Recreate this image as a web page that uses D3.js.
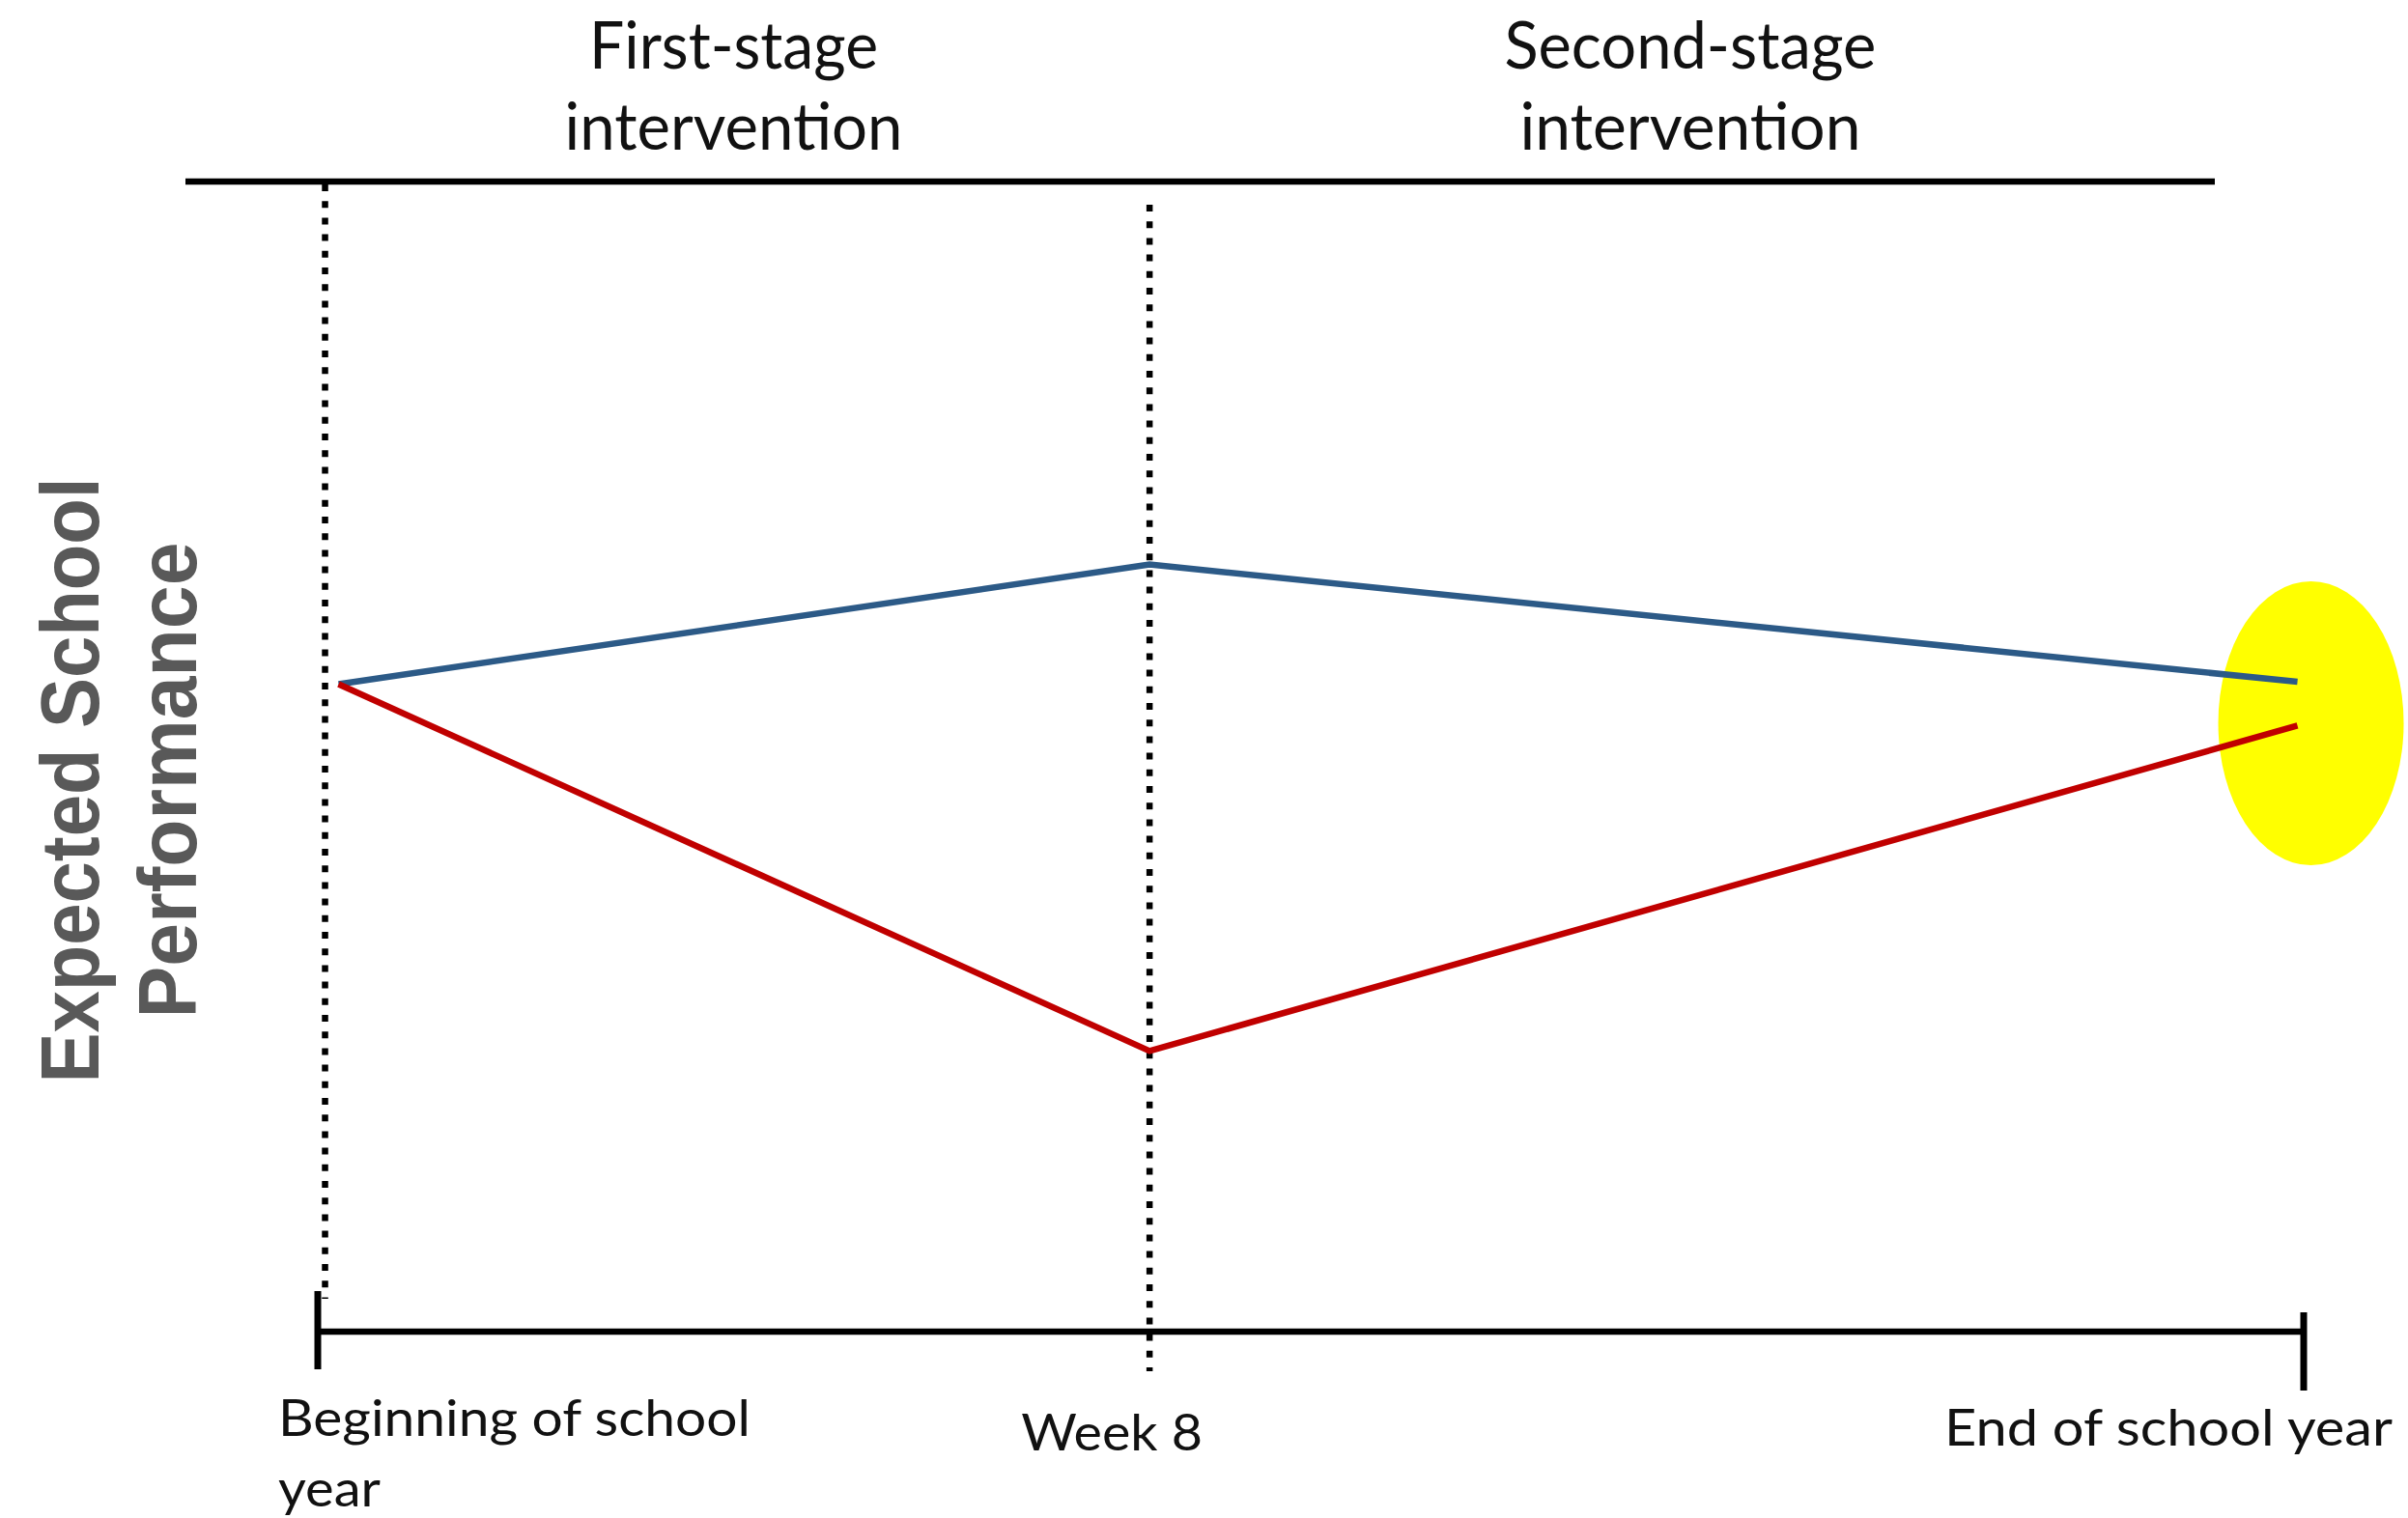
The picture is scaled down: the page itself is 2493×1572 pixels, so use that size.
<!DOCTYPE html>
<html>
<head>
<meta charset="utf-8">
<script src="https://cdn.jsdelivr.net/npm/d3@7"></script>
<style>
  html, body { margin: 0; padding: 0; background: #ffffff; }
  svg { display: block; }
</style>
</head>
<body>
<svg id="chart" width="2493" height="1572"></svg>
<script>
// ---------- data ----------
const timeLabels = ["Beginning of school year", "Week 8", "End of school year"];
const axisWeeks = [0, 19.1];                 // span of the school-year axis (schematic weeks)
const stageBoundaryWeeks = [0.07, 8];        // dotted stage boundaries
const stageNames = [["First-stage", "intervention"], ["Second-stage", "intervention"]];
const stageCenterWeeks = [4, 13.2];
const pointWeeks = [0.2, 8, 19.04];          // Beginning, Week 8, End
const blueValues = [56.3, 66.7, 56.5];
const redValues  = [56.3, 24.4, 52.7];
const highlight = { week: 19.17, value: 52.9 };
const yLabelLines = ["Expected School", "Performance"];

// ---------- layout ----------
const svg = d3.select("#chart");
const x = d3.scaleLinear().domain(axisWeeks).range([329, 2385]);
const y = d3.scaleLinear().domain([0, 100]).range([1379, 188]);

const blueCol = "#2C5A87", redCol = "#C00000";
const labelFont = "Lato, 'Open Sans', sans-serif";

// yellow highlight ellipse
svg.append("ellipse")
  .attr("cx", x(highlight.week)).attr("cy", y(highlight.value))
  .attr("rx", 96).attr("ry", 147)
  .attr("fill", "#FFFF00");

// top line
svg.append("line")
  .attr("x1", 192).attr("x2", 2293)
  .attr("y1", y(100)).attr("y2", y(100))
  .attr("stroke", "#000").attr("stroke-width", 6.5);

// dotted stage boundaries
const dotTops = [y(100) + 3, y(100) + 24];
const dotBottoms = [1345, 1420];
svg.selectAll("line.stage").data(stageBoundaryWeeks).join("line")
  .attr("class", "stage")
  .attr("x1", d => x(d)).attr("x2", d => x(d))
  .attr("y1", (d, i) => dotTops[i]).attr("y2", (d, i) => dotBottoms[i])
  .attr("stroke", "#000").attr("stroke-width", 6.5)
  .attr("stroke-dasharray", "7,10.2");

// bottom axis line + end ticks
svg.append("line")
  .attr("x1", x(axisWeeks[0])).attr("x2", x(axisWeeks[1]))
  .attr("y1", y(0)).attr("y2", y(0))
  .attr("stroke", "#000").attr("stroke-width", 6.5);
const tickUp = [42, 20], tickDown = [39, 61];
svg.selectAll("line.tick").data(axisWeeks).join("line")
  .attr("class", "tick")
  .attr("x1", d => x(d)).attr("x2", d => x(d))
  .attr("y1", (d, i) => y(0) - tickUp[i]).attr("y2", (d, i) => y(0) + tickDown[i])
  .attr("stroke", "#000").attr("stroke-width", 7);

// series lines
const lineGen = d3.line().x((d, i) => x(pointWeeks[i])).y(d => y(d));
[[blueValues, blueCol], [redValues, redCol]].forEach(([vals, col]) => {
  svg.append("path")
    .attr("d", lineGen(vals))
    .attr("fill", "none").attr("stroke", col)
    .attr("stroke-width", 6.5).attr("stroke-linejoin", "miter");
});

// stage headers
const headerWidths = [[299, 350], [385, 353]];
stageNames.forEach((lines, si) => {
  lines.forEach((t, li) => {
    svg.append("text")
      .attr("x", x(stageCenterWeeks[si])).attr("y", 71 + li * 84)
      .attr("text-anchor", "middle")
      .attr("font-family", labelFont).attr("font-size", 68)
      .attr("fill", "#111")
      .attr("textLength", headerWidths[si][li]).attr("lengthAdjust", "spacingAndGlyphs")
      .text(t);
  });
});

// x labels
const tickLabelSize = 53;
svg.append("text")
  .attr("x", x(0) - 41).attr("y", 1487)
  .attr("font-family", labelFont).attr("font-size", tickLabelSize).attr("fill", "#111")
  .attr("textLength", 489).attr("lengthAdjust", "spacingAndGlyphs")
  .text(timeLabels[0].replace(" year", ""));
svg.append("text")
  .attr("x", x(0) - 41).attr("y", 1560)
  .attr("font-family", labelFont).attr("font-size", tickLabelSize).attr("fill", "#111")
  .attr("textLength", 106).attr("lengthAdjust", "spacingAndGlyphs")
  .text("year");
svg.append("text")
  .attr("x", x(8) - 39).attr("y", 1502)
  .attr("text-anchor", "middle")
  .attr("font-family", labelFont).attr("font-size", tickLabelSize).attr("fill", "#111")
  .attr("textLength", 188).attr("lengthAdjust", "spacingAndGlyphs")
  .text(timeLabels[1]);
svg.append("text")
  .attr("x", x(axisWeeks[1]) + 92).attr("y", 1497)
  .attr("text-anchor", "end")
  .attr("font-family", labelFont).attr("font-size", tickLabelSize).attr("fill", "#111")
  .attr("textLength", 464).attr("lengthAdjust", "spacingAndGlyphs")
  .text(timeLabels[2]);

// y label
const yLabelX = [102, 203], yLabelLen = [627, 493];
yLabelLines.forEach((t, i) => {
  svg.append("text")
    .attr("transform", `translate(${yLabelX[i]},808) rotate(-90)`)
    .attr("text-anchor", "middle")
    .attr("font-family", "'Liberation Sans', Arial, sans-serif")
    .attr("font-weight", "bold").attr("font-size", 86)
    .attr("fill", "#595959")
    .attr("textLength", yLabelLen[i]).attr("lengthAdjust", "spacingAndGlyphs")
    .text(t);
});
</script>
</body>
</html>
